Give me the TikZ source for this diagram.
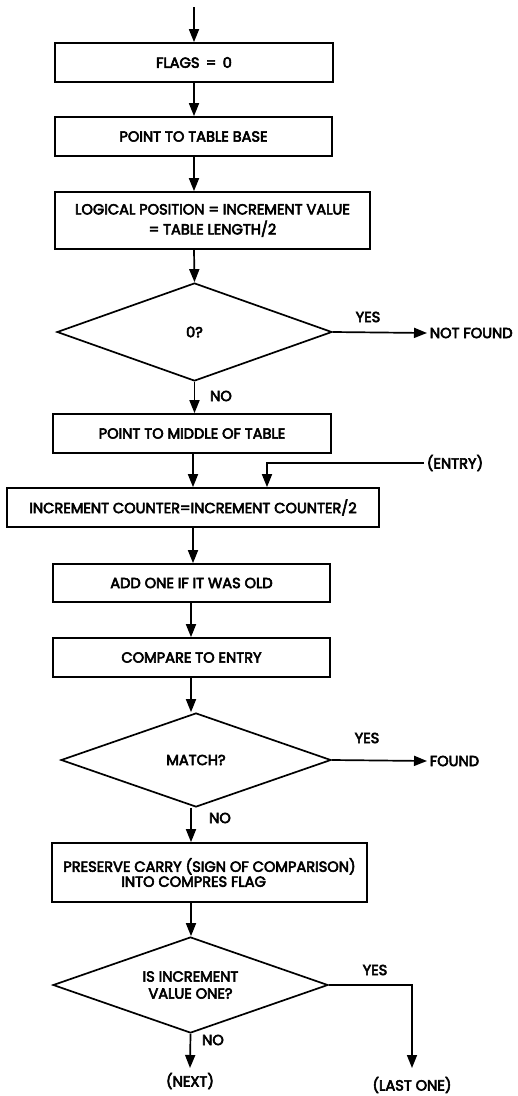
\documentclass[tikz,border=0pt]{standalone}
\usepackage{fontspec}
\setmainfont{Poppins}[FakeBold=4]
\usetikzlibrary{shapes.geometric,arrows.meta}
\begin{document}
\begin{tikzpicture}[x=1pt,y=-1pt,line width=1.7pt,
  txt/.style={font=\fontsize{14.6}{20}\selectfont},
  box/.style={draw,rectangle,inner sep=0pt,align=center,txt},
  dia/.style={draw,diamond,shape aspect=2.8,inner sep=0pt,align=center,txt},
  lab/.style={txt,inner sep=2pt},
  arr/.style={-{Triangle[length=13pt,width=10pt]}}]
\useasboundingbox (0,0) rectangle (518,1096);
% columns
\coordinate (c1) at (194,0);
\coordinate (c2) at (193,0);
\coordinate (c3) at (191,0);
\coordinate (ecol) at (267,0);
\coordinate (top) at (194,7);
% nodes
\node[box,minimum width=278pt,minimum height=39pt] (flags) at (194,62.5) {FLAGS \,=\, 0};
\node[box,minimum width=277pt,minimum height=39pt] (base) at (193.5,136.5) {POINT TO TABLE BASE};
\node[box,minimum width=315pt,minimum height=57pt] (logical) at (212.5,220.5) {LOGICAL POSITION = INCREMENT VALUE\\= TABLE LENGTH/2};
\node[dia,minimum width=275pt,minimum height=98pt] (d1) at (194.5,332) {0?};
\node[lab,anchor=west] (nf) at (427,333) {NOT FOUND};
\node[lab] (yes1) at (368,317) {YES};
\node[lab] (no1) at (221,396) {NO};
\node[box,minimum width=278pt,minimum height=39pt] (mid) at (192,433.5) {POINT TO MIDDLE OF TABLE};
\node[lab,anchor=west] (entry) at (424,463) {(ENTRY)};
\node[box,minimum width=372pt,minimum height=39pt] (inc) at (193,507.5) {INCREMENT COUNTER=INCREMENT COUNTER/2};
\node[box,minimum width=277pt,minimum height=38pt] (add) at (191.5,583) {ADD ONE IF IT WAS OLD};
\node[box,minimum width=277pt,minimum height=39pt] (cmp) at (191.5,657.5) {COMPARE TO ENTRY};
\node[dia,minimum width=270pt,minimum height=94pt] (d2) at (196,760) {MATCH?};
\node[lab,anchor=west] (found) at (427,761) {FOUND};
\node[lab] (yes2) at (367,738) {YES};
\node[lab] (no2) at (220,818) {NO};
\node[box,minimum width=315pt,minimum height=59pt,align=left,font=\fontsize{14.6}{15}\selectfont] (pres) at (209.5,872.5) {PRESERVE CARRY (SIGN OF COMPARISON)\\\hspace*{58pt}INTO COMPRES FLAG};
\node[dia,minimum width=275pt,minimum height=96pt,font=\fontsize{14.6}{17}\selectfont] (d3) at (190.5,985) {IS INCREMENT\\VALUE ONE?};
\node[lab] (yes3) at (375,970) {YES};
\node[lab] (no3) at (213,1040) {NO};
\node[lab] (next) at (190,1081) {(NEXT)};
\node[lab] (last) at (412,1085) {(LAST ONE)};
\coordinate (nextend) at (190,1068);
\coordinate (lastend) at (412,1068);
% connectors
\draw[arr] (top) -- (flags.north -| c1);
\draw[arr] (flags.south -| c1) -- (base.north -| c1);
\draw[arr] (base.south -| c1) -- (logical.north -| c1);
\draw[arr] (logical.south -| c1) -- (d1.north);
\draw[arr] (d1.east) -- (nf.west);
\draw[arr] (d1.south) -- (mid.north -| d1.south);
\draw[arr] (mid.south -| c2) -- (inc.north -| c2);
\draw[arr] (entry.west) -| (inc.north -| ecol);
\draw[arr] (inc.south -| c2) -- (add.north -| c2);
\draw[arr] (add.south -| c3) -- (cmp.north -| c3);
\draw[arr] (cmp.south -| c3) -- (d2.north -| c3);
\draw[arr] (d2.east) -- (found.west);
\draw[arr] (d2.south -| c3) -- (pres.north -| c3);
\draw[arr] (pres.south -| c3) -- (d3.north -| c3);
\draw[arr] (d3.south) -- (nextend);
\draw[arr] (d3.east) -| (lastend);
\end{tikzpicture}
\end{document}
